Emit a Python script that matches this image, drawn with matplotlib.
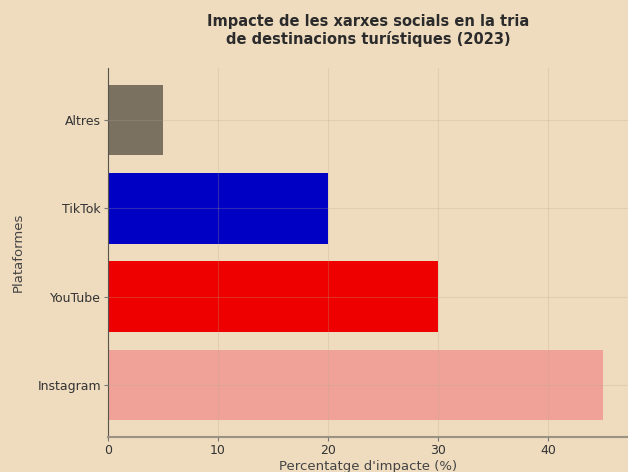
import matplotlib.pyplot as plt

plataformes = ["Instagram", "YouTube", "TikTok", "Altres"]
impacte = [45, 30, 20, 5]
colors = ["#F0A298", "#EE0000", "#0000C4", "#7A7161"]

FONS = "#EFDCBF"

fig = plt.figure(figsize=(6.28, 4.72), dpi=100, facecolor=FONS)
ax = fig.add_axes([0.172, 0.074, 0.828, 0.782], facecolor=FONS)

ax.barh(plataformes, impacte, color=colors, height=0.8)

# graella per sobre de les barres, molt suau
ax.set_axisbelow(False)
ax.grid(True, color="#B8A888", linewidth=0.8, alpha=0.25)

ax.set_xticks([0, 10, 20, 30, 40])
ax.tick_params(labelsize=9, colors="#333333", length=3, width=0.8, pad=2)
ax.tick_params(axis="both", color="#777777")

ax.set_xlabel("Percentatge d'impacte (%)", fontsize=9.5, color="#444444", labelpad=2)
ax.set_ylabel("Plataformes", fontsize=9.5, color="#444444", labelpad=9)
ax.set_title("Impacte de les xarxes socials en la tria\nde destinacions turístiques (2023)",
             fontsize=10.5, fontweight="bold", color="#2B2B2B", pad=17)

for s in ["top", "right"]:
    ax.spines[s].set_visible(False)
ax.spines["left"].set_color("#3A3A3A")
ax.spines["bottom"].set_color("#9C9282")
ax.spines["bottom"].set_linewidth(1.5)

fig.savefig("out.png", dpi=100, facecolor=FONS)
